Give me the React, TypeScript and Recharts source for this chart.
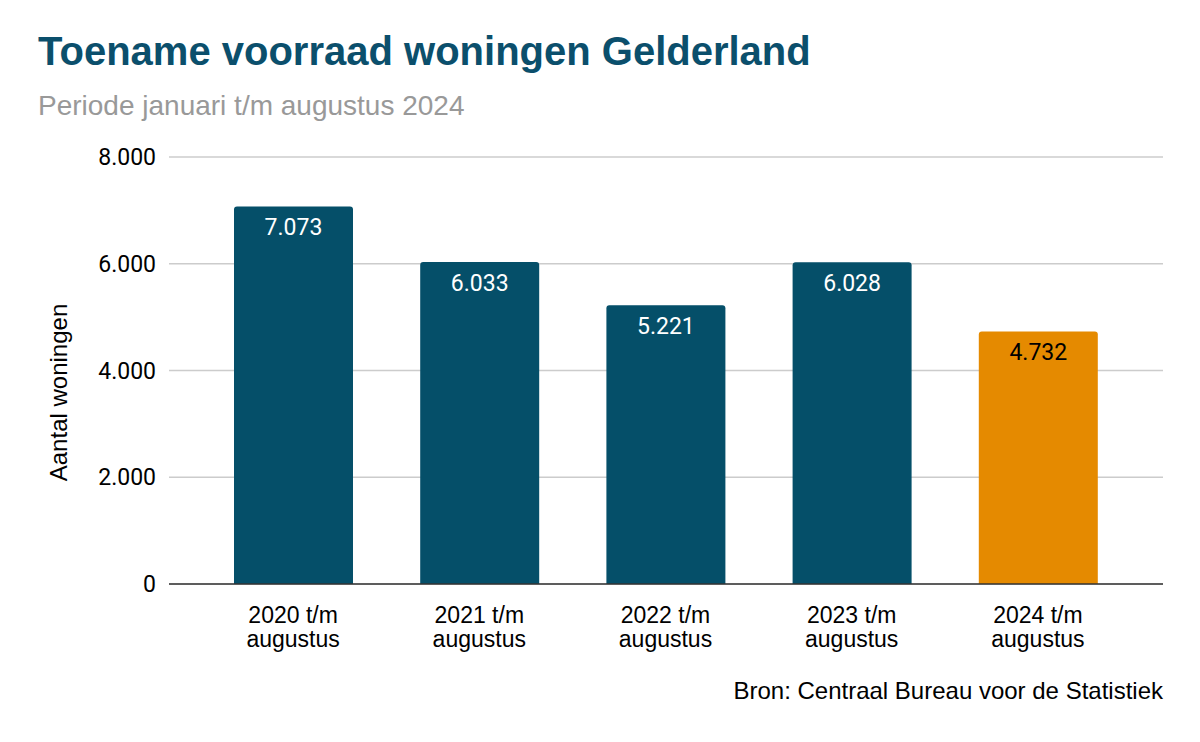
import { BarChart, Bar, XAxis, YAxis, CartesianGrid, Cell, LabelList } from "recharts";

const periods = ["2020 t/m augustus", "2021 t/m augustus", "2022 t/m augustus", "2023 t/m augustus", "2024 t/m augustus"];
const toename = [7073, 6033, 5221, 6028, 4732];
const yTicks = [0, 2000, 4000, 6000, 8000];

const DARK = "#054f69";
const ORANGE = "#e58a00";

const chartData = periods.map((period, i) => ({ period, toename: toename[i] }));

const fmt = (v: number) => String(v).replace(/\B(?=(\d{3})+(?!\d))/g, ".");

const CategoryTick = (props: any) => {
  const { x, y, payload } = props;
  const [year, ...rest] = String(payload.value).split(" ");
  const first = `${year} ${rest[0]}`;
  const second = rest.slice(1).join(" ");
  return (
    <text x={x} y={y} textAnchor="middle" fill="#000" fontSize={23} fontFamily="'Liberation Sans', Arial, sans-serif">
      <tspan x={x} dy={31}>{first}</tspan>
      <tspan x={x} dy={24}>{second}</tspan>
    </text>
  );
};

const BarValue = (props: any) => {
  const { x, y, width, value, index } = props;
  return (
    <text
      x={x + width / 2}
      y={y + 29}
      textAnchor="middle"
      fontSize={23}
      fontFamily="Roboto, sans-serif"
      fill={index === 4 ? "#000" : "#fff"}
    >
      {fmt(value)}
    </text>
  );
};

const App = () => {
  return (
    <div style={{ position: "relative", width: 1200, height: 742, background: "#fff" }}>
      <style>{`body{margin:0}`}</style>
      <div
        style={{
          position: "absolute",
          left: 38,
          top: 29,
          fontFamily: "'Liberation Sans', Arial, sans-serif",
          fontWeight: 700,
          fontSize: 40,
          color: "#0b4f6c",
          whiteSpace: "nowrap",
        }}
      >
        Toename voorraad woningen Gelderland
      </div>
      <div
        style={{
          position: "absolute",
          left: 38,
          top: 90,
          fontFamily: "'Liberation Sans', Arial, sans-serif",
          fontSize: 28,
          color: "#999",
          whiteSpace: "nowrap",
        }}
      >
        Periode januari t/m augustus 2024
      </div>
      <div
        style={{
          position: "absolute",
          right: 37,
          top: 677,
          fontFamily: "'Liberation Sans', Arial, sans-serif",
          fontSize: 24,
          color: "#000",
          whiteSpace: "nowrap",
        }}
      >
        Bron: Centraal Bureau voor de Statistiek
      </div>
      <div style={{ position: "absolute", left: 0, top: 0 }}>
        <BarChart
          width={1200}
          height={742}
          data={chartData}
          margin={{ top: 157, right: 37, bottom: 88, left: 89 }}
        >
          <CartesianGrid vertical={false} stroke="#cccccc" strokeWidth={1.5} />
          <XAxis
            dataKey="period"
            interval={0}
            height={70}
            padding={{ left: 31, right: 32 }}
            tickLine={false}
            axisLine={{ stroke: "#333", strokeWidth: 1.5 }}
            tick={<CategoryTick />}
          />
          <YAxis
            width={80}
            domain={[0, 8000]}
            ticks={yTicks}
            tickFormatter={fmt}
            tickLine={false}
            axisLine={false}
            tickSize={0}
            tickMargin={13}
            tick={{ fill: "#000", fontSize: 23, fontFamily: "Roboto, sans-serif" }}
            label={{
              value: "Aantal woningen",
              angle: -90,
              position: "insideLeft",
              dx: -36,
              dy: 22,
              style: { textAnchor: "middle", fill: "#000", fontSize: 24, fontFamily: "'Liberation Sans', Arial, sans-serif" },
            }}
          />
          <Bar dataKey="toename" barSize={119} radius={[3, 3, 0, 0]} isAnimationActive={false}>
            {chartData.map((_, i) => (
              <Cell key={i} fill={i === 4 ? ORANGE : DARK} />
            ))}
            <LabelList dataKey="toename" content={<BarValue />} />
          </Bar>
        </BarChart>
      </div>
    </div>
  );
};

export default App;
